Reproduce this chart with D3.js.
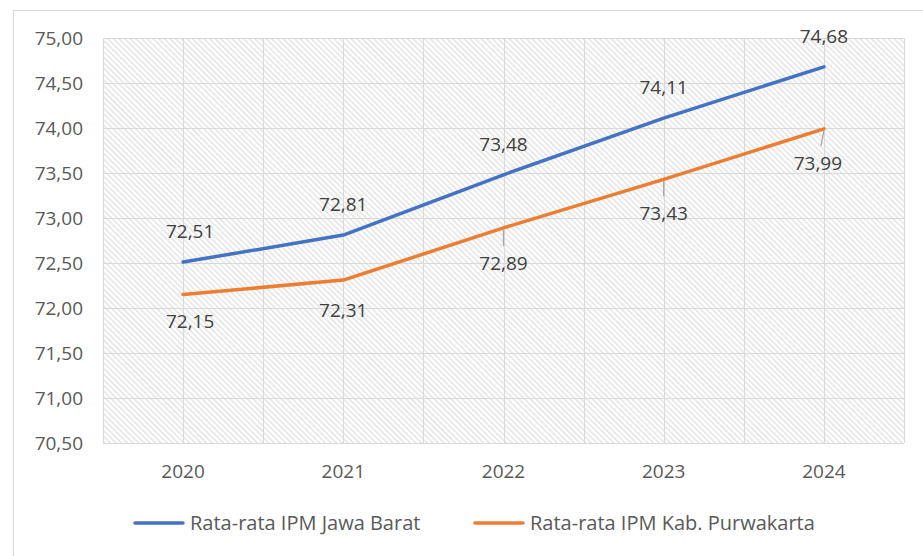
<!DOCTYPE html>
<html><head><meta charset="utf-8">
<script src="https://cdn.jsdelivr.net/npm/d3@7"></script>
<style>html,body{margin:0;padding:0;background:#fff}svg{display:block}</style>
</head><body>
<script>
const years = ["2020","2021","2022","2023","2024"];
const jabar = [72.51, 72.81, 73.48, 74.11, 74.68];
const purwakarta = [72.15, 72.31, 72.89, 73.43, 73.99];
const yTicks = [70.5,71,71.5,72,72.5,73,73.5,74,74.5,75];
const seriesNames = ["Rata-rata IPM Jawa Barat","Rata-rata IPM Kab. Purwakarta"];
const colors = ["#4472C4","#ED7D31"];

const W = 923, H = 556;
const svg = d3.select("body").append("svg").attr("width", W).attr("height", H);
const font = "'Open Sans', 'Liberation Sans', sans-serif";
const textColor = "#595959";

// chart frame
svg.append("rect").attr("x",13.5).attr("y",10.5).attr("width",W+10).attr("height",H+10)
  .attr("fill","#fff").attr("stroke","#d9d9d9").attr("stroke-width",1);

const m = {left:103, top:38, right:904, bottom:443};
const x = d3.scaleBand().domain(years).range([m.left, m.right]);
const y = d3.scaleLinear().domain([70.5, 75]).range([m.bottom, m.top]);

const defs = svg.append("defs");
const pat = defs.append("pattern").attr("id","hatch").attr("patternUnits","userSpaceOnUse")
  .attr("width",4).attr("height",4).attr("patternTransform","rotate(-45)");
pat.append("rect").attr("width",4).attr("height",4).attr("fill","#fff");
pat.append("line").attr("x1",0.75).attr("y1",0).attr("x2",0.75).attr("y2",4)
  .attr("stroke","#e2e2e2").attr("stroke-width",1.4);

svg.append("rect").attr("x",m.left).attr("y",m.top).attr("width",m.right-m.left)
  .attr("height",m.bottom-m.top).attr("fill","url(#hatch)");

// grid
const g = svg.append("g");
g.selectAll("line.h").data(yTicks).join("line")
  .attr("x1",m.left).attr("x2",m.right).attr("y1",d=>Math.round(y(d))+0.5).attr("y2",d=>Math.round(y(d))+0.5)
  .attr("stroke","#d9d9d9").attr("stroke-width",1);
const vx = [];
years.forEach(d=>{ vx.push(x(d)); vx.push(x(d)+x.bandwidth()/2); });
vx.push(m.right);
g.selectAll("line.v").data(vx).join("line")
  .attr("x1",d=>Math.round(d)+0.5).attr("x2",d=>Math.round(d)+0.5).attr("y1",m.top).attr("y2",m.bottom)
  .attr("stroke","#d9d9d9").attr("stroke-width",1);

// y axis
const fmt = d => d3.format(".2f")(d).replace(".",",");
const yAxis = svg.append("g").attr("transform",`translate(${m.left-20},0)`)
  .call(d3.axisLeft(y).tickValues(yTicks).tickFormat(fmt).tickSize(0).tickPadding(0));
yAxis.select(".domain").remove();
yAxis.selectAll("text").attr("fill",textColor).style("font-family",font).style("font-size","19px");

// x axis
const xAxis = svg.append("g").attr("transform",`translate(0,${m.bottom})`)
  .call(d3.axisBottom(x).tickSize(0).tickPadding(22));
xAxis.select(".domain").remove();
xAxis.selectAll("text").attr("fill",textColor).style("font-family",font).style("font-size","19px");

const cx = d => x(d) + x.bandwidth()/2;
const line = d3.line().x((d,i)=>cx(years[i])).y(d=>y(d));
[jabar, purwakarta].forEach((s,k)=>{
  svg.append("path").datum(s).attr("d",line).attr("fill","none")
    .attr("stroke",colors[k]).attr("stroke-width",3.5).attr("stroke-linejoin","round").attr("stroke-linecap","round");
});

// labels
const lblDx = [7,0,0,0,0];
svg.append("g").selectAll("text").data(jabar).join("text")
  .attr("x",(d,i)=>cx(years[i])+lblDx[i]).attr("y",d=>y(d)-24)
  .attr("text-anchor","middle").attr("fill","#404040")
  .style("font-family",font).style("font-size","19px").text(fmt);

const oOff = [33,37,42,41,41];
const oDx = [7,0,0,0,-6];
const leader = [false,false,true,true,true];
purwakarta.forEach((d,i)=>{
  if(leader[i]){
    svg.append("line").attr("x1",cx(years[i])).attr("y1",y(d)+2)
      .attr("x2",cx(years[i])+(i===4?-3:0)).attr("y2",y(d)+oOff[i]-24)
      .attr("stroke","#a6a6a6").attr("stroke-width",1.3);
  }
});
svg.append("g").selectAll("text").data(purwakarta).join("text")
  .attr("x",(d,i)=>cx(years[i])+oDx[i]).attr("y",(d,i)=>y(d)+oOff[i])
  .attr("text-anchor","middle").attr("fill","#404040")
  .style("font-family",font).style("font-size","19px").text(fmt);

// legend
const legX = [135, 475];
seriesNames.forEach((n,k)=>{
  const lg = svg.append("g");
  lg.append("line").attr("x1",legX[k]).attr("x2",legX[k]+48).attr("y1",523).attr("y2",523)
    .attr("stroke",colors[k]).attr("stroke-width",3.5).attr("stroke-linecap","round");
  lg.append("text").attr("x",legX[k]+55).attr("y",523).attr("dy","0.35em")
    .attr("fill",textColor).style("font-family",font).style("font-size","20px").text(n);
});
</script>
</body></html>
